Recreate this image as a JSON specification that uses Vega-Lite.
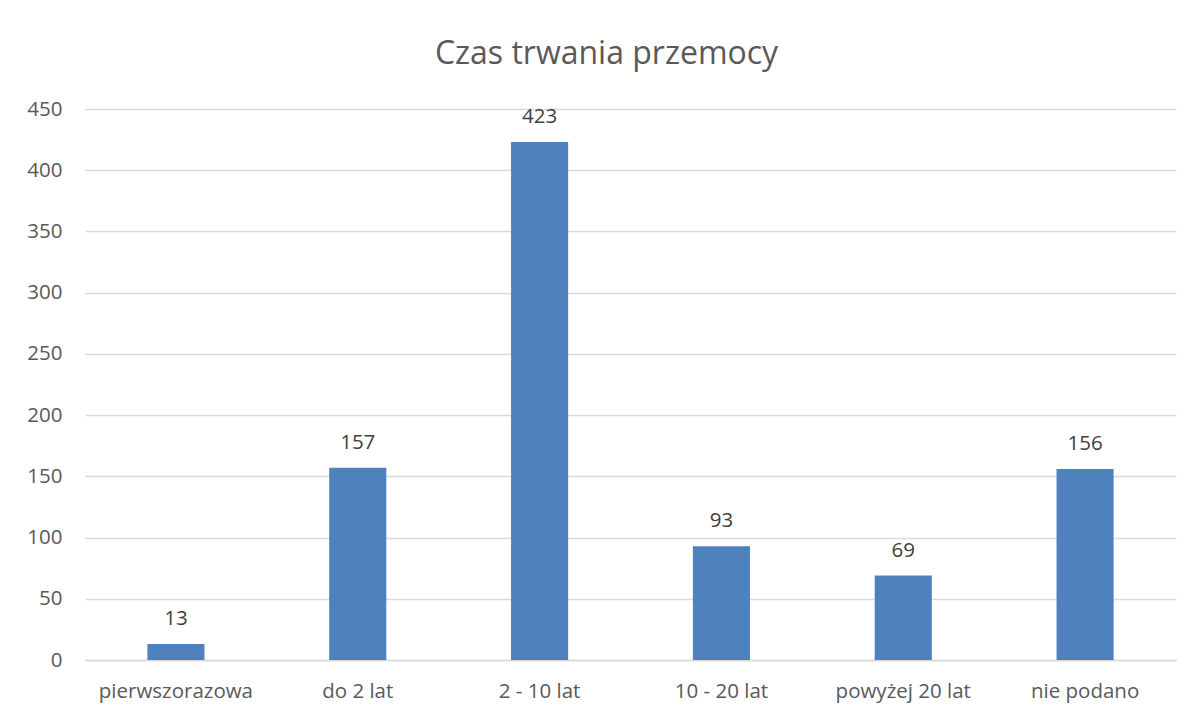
{
  "$schema": "https://vega.github.io/schema/vega-lite/v6.json",
  "autosize": {"type": "none"},
  "width": 1091,
  "height": 551,
  "padding": {"left": 85, "top": 109, "right": 16, "bottom": 56},
  "background": "white",
  "title": {
    "text": "Czas trwania przemocy",
    "font": "Open Sans",
    "fontSize": 32,
    "fontWeight": "normal",
    "color": "#595959",
    "anchor": "middle",
    "dx": -24,
    "offset": 28
  },
  "data": {
    "values": [
      {"kategoria": "pierwszorazowa", "liczba": 13},
      {"kategoria": "do 2 lat", "liczba": 157},
      {"kategoria": "2 - 10 lat", "liczba": 423},
      {"kategoria": "10 - 20 lat", "liczba": 93},
      {"kategoria": "powyżej 20 lat", "liczba": 69},
      {"kategoria": "nie podano", "liczba": 156}
    ]
  },
  "encoding": {
    "x": {
      "field": "kategoria",
      "type": "nominal",
      "sort": null,
      "scale": {"paddingInner": 0.686, "paddingOuter": 0.343},
      "axis": {
        "title": null,
        "labelAngle": 0,
        "labelFont": "Open Sans",
        "labelFontSize": 20.5,
        "labelColor": "#595959",
        "labelBaseline": "alphabetic",
        "labelPadding": 37,
        "ticks": false,
        "domainColor": "#d9d9d9",
        "domainWidth": 1.5
      }
    },
    "y": {
      "field": "liczba",
      "type": "quantitative",
      "scale": {"domain": [0, 450], "nice": false},
      "axis": {
        "title": null,
        "values": [0, 50, 100, 150, 200, 250, 300, 350, 400, 450],
        "labelFont": "Open Sans",
        "labelFontSize": 20.5,
        "labelColor": "#595959",
        "labelPadding": 23,
        "ticks": false,
        "domain": false,
        "gridColor": "#d9d9d9",
        "gridWidth": 1.5
      }
    }
  },
  "layer": [
    {"mark": {"type": "bar", "color": "#4f81bd"}},
    {
      "mark": {
        "type": "text",
        "dy": -19,
        "font": "Open Sans",
        "fontSize": 20.5,
        "color": "#404040",
        "baseline": "alphabetic"
      },
      "encoding": {"text": {"field": "liczba", "type": "quantitative"}}
    }
  ],
  "config": {"view": {"stroke": null}}
}
